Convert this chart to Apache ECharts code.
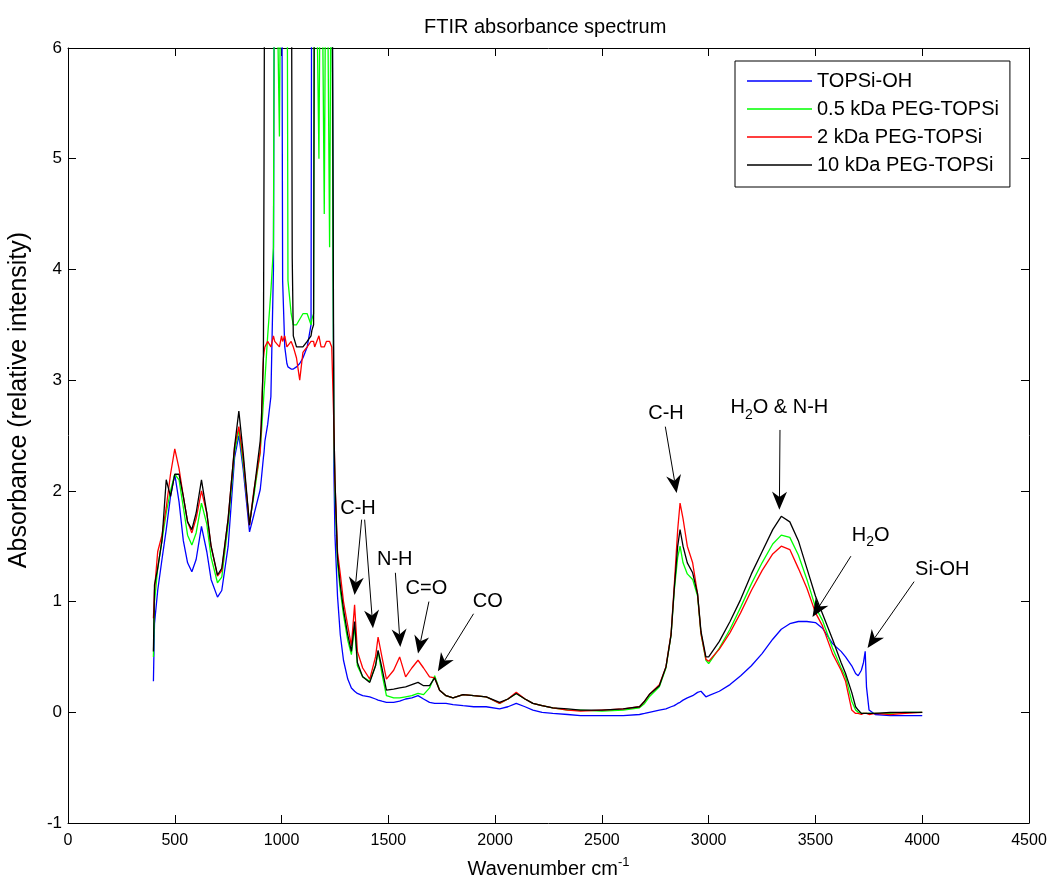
<!DOCTYPE html>
<html>
<head>
<meta charset="utf-8">
<title>FTIR absorbance spectrum</title>
<script src="https://cdn.jsdelivr.net/npm/echarts@6/dist/echarts.min.js"></script>
<style>
  html, body { margin: 0; padding: 0; background: #fff; }
  #chart { width: 1051px; height: 885px; }
</style>
</head>
<body>
<div id="chart"></div>
<script>
// wavenumber grid (cm-1) shared by the four spectra
const wavenumber = [
  400, 405, 420, 440, 460, 480, 500, 520, 540, 560, 580,
  600, 625, 650, 670, 700, 720, 750, 780, 800, 820, 850, 870,
  900, 905, 915, 918, 922, 935, 950, 962, 968, 990, 1000,
  1005, 1015, 1025, 1030, 1045, 1050, 1055, 1070, 1085, 1100, 1120, 1138, 1142, 1150,
  1155, 1175, 1185, 1200, 1210, 1225, 1235, 1240, 1245, 1250,
  1262, 1275, 1290, 1310, 1327, 1342, 1355, 1380, 1413, 1440, 1452,
  1470, 1491, 1525, 1553, 1581, 1610, 1639, 1665, 1693, 1717, 1740,
  1770, 1803, 1850, 1900, 1958, 2021, 2060, 2099, 2140, 2177, 2220, 2270, 2340,
  2400, 2500, 2600, 2676, 2700, 2722, 2769, 2800, 2824, 2839, 2855, 2866, 2880,
  2900, 2925, 2948, 2964, 2987, 3000, 3050, 3100, 3150, 3200, 3250,
  3300, 3340, 3380, 3420, 3460, 3500, 3533, 3580, 3620, 3641,
  3670, 3688, 3700, 3715, 3725, 3733, 3739, 3751, 3780, 3850, 3920, 4000
];

// absorbance values, 8 = off scale (goes past the top of the axes)
const topsiOH = [
  0.28, 0.80, 1.10, 1.38, 1.65, 1.95, 2.15, 1.90, 1.55, 1.35, 1.27,
  1.38, 1.68, 1.45, 1.20, 1.04, 1.10, 1.50, 2.30, 2.50, 2.20, 1.63, 1.78,
  2.01, 2.10, 2.30, 2.35, 2.45, 2.60, 2.85, 4.00, 8, 8, 8,
  3.90, 3.30, 3.15, 3.12, 3.10, 3.10, 3.10, 3.12, 3.15, 3.20, 3.30, 3.50, 8, 8,
  8, 8, 8, 8, 8, 8, 8, 8, 2.20, 1.60,
  1.05, 0.70, 0.47, 0.30, 0.22, 0.19, 0.17, 0.15, 0.14, 0.12, 0.11,
  0.10, 0.09, 0.09, 0.10, 0.12, 0.13, 0.15, 0.12, 0.09, 0.08, 0.08,
  0.08, 0.07, 0.06, 0.05, 0.05, 0.03, 0.05, 0.08, 0.05, 0.02, 0.00, -0.01, -0.02,
  -0.03, -0.03, -0.03, -0.02, -0.01, 0.00, 0.02, 0.03, 0.05, 0.06, 0.08, 0.09, 0.11,
  0.13, 0.15, 0.18, 0.19, 0.14, 0.15, 0.19, 0.25, 0.33, 0.42, 0.53,
  0.66, 0.75, 0.80, 0.82, 0.82, 0.81, 0.76, 0.62, 0.55, 0.50,
  0.42, 0.35, 0.33, 0.38, 0.45, 0.55, 0.23, 0.02, -0.02, -0.03, -0.03, -0.03
];
const peg05 = [
  0.50, 1.00, 1.30, 1.55, 1.80, 2.00, 2.15, 2.10, 1.85, 1.60, 1.51,
  1.62, 1.89, 1.70, 1.40, 1.17, 1.22, 1.70, 2.35, 2.55, 2.25, 1.71, 1.95,
  2.35, 2.50, 2.80, 2.90, 3.00, 3.40, 3.80, 4.20, 8, 5.20, 8,
  8, 8, 8, 3.90, 3.60, 3.55, 3.50, 3.50, 3.55, 3.60, 3.60, 3.50, 3.55, 3.60,
  8, 5.00, 8, 4.50, 8, 4.20, 8, 4.40, 2.50, 2.00,
  1.35, 1.10, 0.88, 0.65, 0.52, 0.78, 0.42, 0.32, 0.28, 0.42, 0.55,
  0.35, 0.15, 0.13, 0.13, 0.14, 0.15, 0.17, 0.16, 0.22, 0.33, 0.20,
  0.15, 0.13, 0.16, 0.15, 0.14, 0.08, 0.12, 0.17, 0.12, 0.08, 0.06, 0.04, 0.02,
  0.02, 0.01, 0.02, 0.04, 0.08, 0.14, 0.23, 0.40, 0.70, 1.10, 1.40, 1.50, 1.35,
  1.25, 1.20, 1.05, 0.71, 0.47, 0.44, 0.58, 0.75, 0.95, 1.16, 1.35,
  1.52, 1.60, 1.58, 1.42, 1.20, 0.95, 0.83, 0.58, 0.40, 0.32,
  0.10, 0.02, 0.00, -0.01, -0.01, -0.01, -0.01, -0.01, -0.01, -0.01, 0.00, 0.00
];
const peg2 = [
  0.85, 1.10, 1.45, 1.60, 1.85, 2.15, 2.38, 2.20, 1.95, 1.72, 1.62,
  1.75, 2.00, 1.80, 1.50, 1.23, 1.28, 1.75, 2.40, 2.58, 2.30, 1.69, 2.00,
  2.35, 2.60, 3.20, 3.25, 3.30, 3.35, 3.30, 3.40, 3.35, 3.30, 3.40,
  3.35, 3.40, 3.30, 3.30, 3.35, 3.35, 3.30, 3.20, 3.00, 3.25, 3.30, 3.35, 3.35, 3.35,
  3.30, 3.40, 3.30, 3.30, 3.35, 3.35, 3.30, 3.30, 2.60, 2.10,
  1.45, 1.25, 1.00, 0.78, 0.60, 0.97, 0.55, 0.40, 0.30, 0.50, 0.68,
  0.50, 0.30, 0.38, 0.50, 0.32, 0.40, 0.47, 0.40, 0.32, 0.31, 0.20,
  0.15, 0.13, 0.16, 0.15, 0.14, 0.08, 0.12, 0.18, 0.12, 0.08, 0.06, 0.04, 0.02,
  0.01, 0.02, 0.03, 0.05, 0.10, 0.16, 0.25, 0.41, 0.71, 1.15, 1.65, 1.89, 1.75,
  1.50, 1.35, 1.07, 0.71, 0.48, 0.46, 0.57, 0.72, 0.90, 1.10, 1.28,
  1.43, 1.50, 1.47, 1.30, 1.12, 0.90, 0.78, 0.53, 0.38, 0.28,
  0.02, -0.01, -0.01, -0.02, -0.01, -0.02, -0.01, -0.02, -0.01, -0.02, -0.01, 0.00
];
const peg10 = [
  0.55, 1.15, 1.30, 1.55, 2.10, 1.95, 2.15, 2.15, 1.95, 1.72, 1.65,
  1.80, 2.10, 1.80, 1.50, 1.24, 1.30, 1.75, 2.40, 2.72, 2.35, 1.69, 1.98,
  2.45, 2.60, 3.20, 5.00, 8, 8, 8, 8, 8, 8, 8,
  8, 8, 8, 8, 8, 4.10, 3.40, 3.30, 3.30, 3.30, 3.35, 3.40, 3.45, 3.50,
  8, 8, 8, 8, 8, 8, 8, 8, 2.60, 2.10,
  1.40, 1.15, 0.93, 0.70, 0.55, 0.82, 0.45, 0.32, 0.27, 0.42, 0.56,
  0.40, 0.20, 0.21, 0.22, 0.23, 0.25, 0.27, 0.24, 0.24, 0.31, 0.20,
  0.15, 0.13, 0.16, 0.15, 0.14, 0.09, 0.12, 0.17, 0.12, 0.08, 0.06, 0.04, 0.03,
  0.02, 0.02, 0.03, 0.05, 0.10, 0.16, 0.24, 0.41, 0.70, 1.12, 1.50, 1.65, 1.50,
  1.35, 1.26, 1.07, 0.73, 0.50, 0.50, 0.64, 0.82, 1.02, 1.25, 1.45,
  1.65, 1.77, 1.72, 1.55, 1.30, 1.05, 0.89, 0.66, 0.45, 0.35,
  0.18, 0.05, 0.02, -0.01, -0.01, -0.01, -0.01, -0.01, -0.01, 0.00, 0.00, 0.00
];

const seriesNames = ["TOPSi-OH", "0.5 kDa PEG-TOPSi", "2 kDa PEG-TOPSi", "10 kDa PEG-TOPSi"];
const seriesColors = ["#0000ff", "#00ff00", "#ff0000", "#000000"];

// peak labels (data coords of text centre) and arrows (tail -> tip)
const annoText = ["C-H", "N-H", "C=O", "CO", "C-H", "H{s|2}O & N-H", "H{s|2}O", "Si-OH"];
const annoAt = [[1358, 1.84], [1530, 1.38], [1678, 1.12], [1966, 1.0], [2800, 2.70], [3331, 2.75], [3759, 1.60], [4094, 1.29]];
const arrowFrom = [[1375, 1.74], [1389, 1.74], [1533, 1.26], [1690, 1.0], [1899, 0.89], [2797, 2.58], [3334, 2.55], [3666, 1.41], [3962, 1.18]];
const arrowTo = [[1342, 1.06], [1428, 0.76], [1556, 0.59], [1639, 0.53], [1732, 0.37], [2850, 1.98], [3331, 1.83], [3486, 0.86], [3744, 0.58]];

const FONT = '"Liberation Sans", Arial, sans-serif';

const allValues = [topsiOH, peg05, peg2, peg10];

const boxAxis = {
  axisLine: { show: true, onZero: false, lineStyle: { color: "#000", width: 1 } },
  axisTick: { show: true, inside: true, length: 8, lineStyle: { color: "#000" } },
  splitLine: { show: false }
};

// thin horizontal bar inside a 65x20 box, so the legend shows a plain line
const legendLine = "path://M0,0h0.05v0.05h-0.05z M0,9.3h65v1.4h-65z M0,19.95h0.05v0.05h-0.05z";

const option = {
  animation: false,
  backgroundColor: "#fff",
  title: {
    text: "FTIR absorbance spectrum",
    left: 424,
    top: 17,
    padding: 0,
    textStyle: { fontFamily: FONT, fontSize: 20, fontWeight: "normal", color: "#000" }
  },
  legend: {
    orient: "vertical",
    left: 735,
    top: 61,
    padding: [10, 11, 12, 12],
    itemWidth: 65,
    itemHeight: 20,
    itemGap: 8,
    icon: legendLine,
    borderColor: "#000",
    borderWidth: 1,
    backgroundColor: "#fff",
    textStyle: { fontFamily: FONT, fontSize: 20, color: "#000" },
    data: seriesNames
  },
  grid: { left: 68, right: 22, top: 48, bottom: 62, containLabel: false, outerBoundsMode: "none" },
  xAxis: [
    Object.assign({
      type: "value", min: 0, max: 4500, interval: 500, position: "bottom",
      name: "Wavenumber cm{sup|-1}",
      nameLocation: "middle",
      nameGap: 33,
      nameTextStyle: {
        fontFamily: FONT, fontSize: 20, color: "#000",
        rich: { sup: { fontFamily: FONT, fontSize: 13, color: "#000", padding: [0, 0, 14, 0] } }
      },
      axisLabel: { fontFamily: FONT, fontSize: 16, color: "#000", margin: 10, formatter: v => String(v) }
    }, boxAxis),
    Object.assign({
      type: "value", min: 0, max: 4500, interval: 500, position: "top",
      axisLabel: { show: false }
    }, boxAxis)
  ],
  yAxis: [
    Object.assign({
      type: "value", min: -1, max: 6, interval: 1, position: "left",
      axisLabel: { fontFamily: FONT, fontSize: 17, color: "#000", margin: 6, formatter: v => String(v) }
    }, boxAxis),
    Object.assign({
      type: "value", min: -1, max: 6, interval: 1, position: "right",
      axisLabel: { show: false }
    }, boxAxis)
  ],
  series: seriesNames.map((name, i) => ({
    name: name,
    type: "line",
    xAxisIndex: 0,
    yAxisIndex: 0,
    symbol: "none",
    showSymbol: false,
    clip: true,
    color: seriesColors[i],
    lineStyle: { color: seriesColors[i], width: 1.3 },
    emphasis: { disabled: true },
    data: wavenumber.map((w, j) => [w, allValues[i][j]])
  }))
};

const chart = echarts.init(document.getElementById("chart"), null, { renderer: "canvas" });
chart.setOption(option);

// arrows and labels placed through the grid's own coordinate system
const toPx = p => chart.convertToPixel({ gridIndex: 0 }, p);
const graphics = [];
arrowFrom.forEach((from, i) => {
  const a = toPx(from);
  const b = toPx(arrowTo[i]);
  const len = Math.hypot(b[0] - a[0], b[1] - a[1]);
  const ux = (b[0] - a[0]) / len;
  const uy = (b[1] - a[1]) / len;
  const headLen = 18;
  const headW = 15;
  const bx = b[0] - ux * headLen;
  const by = b[1] - uy * headLen;
  const nx = b[0] - ux * headLen * 0.7;
  const ny = b[1] - uy * headLen * 0.7;
  graphics.push({
    type: "line",
    silent: true,
    z: 100,
    shape: { x1: a[0], y1: a[1], x2: nx, y2: ny },
    style: { stroke: "#000", lineWidth: 1 }
  });
  graphics.push({
    type: "polygon",
    silent: true,
    z: 100,
    shape: {
      points: [
        [b[0], b[1]],
        [bx - uy * headW / 2, by + ux * headW / 2],
        [nx, ny],
        [bx + uy * headW / 2, by - ux * headW / 2]
      ]
    },
    style: { fill: "#000" }
  });
});
annoText.forEach((t, i) => {
  const p = toPx(annoAt[i]);
  graphics.push({
    type: "text",
    silent: true,
    z: 100,
    x: p[0],
    y: p[1],
    style: {
      text: t,
      fontFamily: FONT,
      fontSize: 20,
      fill: "#000",
      align: "center",
      verticalAlign: "middle",
      rich: { s: { fontFamily: FONT, fontSize: 14, fill: "#000", padding: [14, 0, 0, 0] } }
    }
  });
});
// y axis title, sits a little above the middle of the axis as in the source figure
graphics.push({
  type: "text",
  silent: true,
  x: 19,
  y: 400,
  rotation: Math.PI / 2,
  style: {
    text: "Absorbance (relative intensity)",
    fontFamily: FONT,
    fontSize: 25,
    fill: "#000",
    align: "center",
    verticalAlign: "middle"
  }
});
chart.setOption({ graphic: graphics });
</script>
</body>
</html>
